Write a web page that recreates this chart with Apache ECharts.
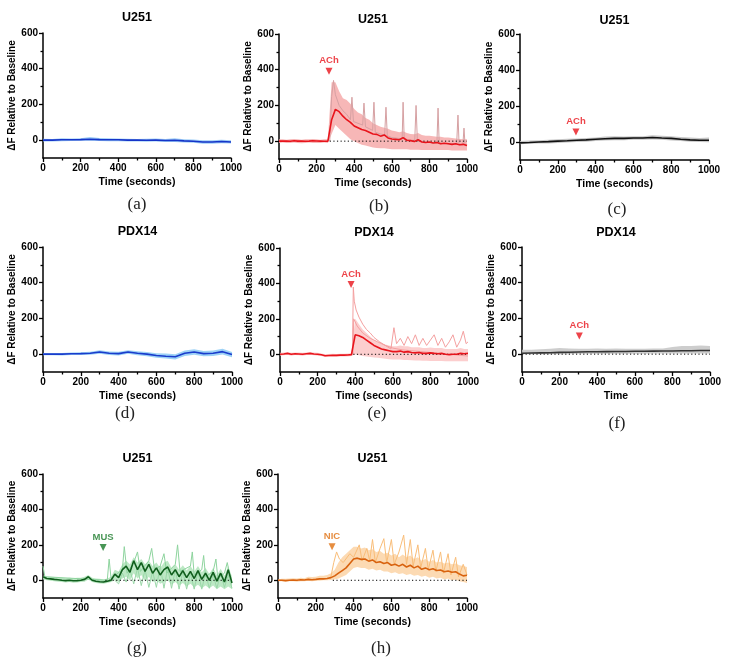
<!DOCTYPE html>
<html><head><meta charset="utf-8">
<script src="https://cdn.jsdelivr.net/npm/echarts@6/dist/echarts.min.js"></script>
<style>html,body{margin:0;padding:0;background:#fff}#c{width:731px;height:667px}</style>
</head><body><div id="c"></div>
<script>
// ---------- data ----------
const T50 = [0,50,100,150,200,250,300,350,400,450,500,550,600,650,700,750,800,850,900,950,1000];
const T20 = [0,20,40,60,80,100,120,140,160,180,200,220,240,260,280,300,320,340,360,380,400,420,440,460,480,500,520,540,560,580,600,620,640,660,680,700,720,740,760,780,800,820,840,860,880,900,920,940,960,980,1000];
const xTicks = [0,200,400,600,800,1000];
const xMinorTicks = [100,300,500,700,900];
const yTicks = [0,200,400,600];
const yMinorTicks = [100,300,500];

// (a) U251 control
const aMean = [0,0,2,2,3,5,3,2,2,0,0,-1,0,-2,-1,-4,-6,-10,-10,-8,-10];
const aUp   = [8,7,10,9,11,18,12,10,9,8,7,8,9,7,10,5,3,-1,0,2,-1];
const aLo   = [-7,-8,-6,-5,-4,-3,-5,-6,-6,-8,-8,-9,-8,-10,-10,-13,-15,-20,-20,-18,-19];

// (b) U251 ACh
const bMean = [0,1,0,-1,2,0,1,-1,0,2,1,0,-1,0,
  120,178,165,140,120,105,85,75,65,60,50,40,38,28,35,18,12,10,8,20,5,3,-2,8,-5,-8,-5,-10,-8,-15,-12,-15,-18,-15,-20,-18,-25];
const bUp = [10,10,8,10,12,10,8,10,10,12,10,8,10,10,
  330,330,280,240,230,210,180,160,150,130,120,100,90,80,75,70,60,55,50,55,45,40,38,45,35,30,30,28,25,25,20,20,18,15,12,10,10];
const bLo = [-10,-8,-10,-10,-8,-10,-12,-10,-8,-10,-10,-10,-8,-10,
  40,90,70,50,30,10,0,-10,-20,-25,-30,-35,-38,-40,-40,-42,-45,-45,-45,-45,-45,-48,-48,-48,-50,-50,-50,-50,-50,-50,-50,-50,-52,-52,-52,-52,-52];
const bSpiky = [[270,0],[280,250],[290,340],[300,260],[320,200],[340,170],[360,150],[380,120],[388,246],[396,110],[420,100],[445,90],[452,213],[460,80],[480,70],[498,60],[505,218],[512,50],[540,40],[562,35],[569,190],[576,30],[600,20],[640,15],[655,10],[660,218],[666,10],[700,5],[722,5],[729,200],[736,0],[780,-5],[820,-10],[840,-10],[846,185],[852,-10],[900,-15],[945,-15],[952,146],[958,-20],[978,-20],[984,73],[990,-25],[1000,-25]];

// (c) U251 ACh (no response)
const cMean = [-5,-3,0,2,5,7,10,12,15,18,20,20,22,22,25,22,20,15,12,10,10];
const cUp   = [5,8,10,12,15,18,20,22,25,30,32,30,32,32,38,35,32,28,25,22,25];
const cLo   = [-12,-10,-8,-8,-5,-3,0,2,5,8,10,10,12,12,14,12,8,5,2,0,-2];

// (d) PDX14 control
const dMean = [0,0,0,2,3,5,12,5,3,12,5,0,-8,-12,-15,5,12,3,5,14,-2];
const dUp   = [6,7,7,9,11,14,22,15,13,22,16,12,5,3,0,20,28,18,20,30,12];
const dLo   = [-6,-6,-7,-5,-5,-4,2,-5,-7,2,-6,-12,-20,-25,-30,-10,-4,-12,-10,-2,-18];

// (e) PDX14 ACh
const eMean = [0,2,5,0,3,2,0,3,5,2,0,-3,-8,-7,-6,-6,-5,-5,-4,-2,
  110,105,95,80,65,50,40,30,25,20,15,15,18,12,15,10,8,10,5,5,8,5,3,5,0,-2,0,0,5,3,5];
const eUp = [8,10,12,8,10,10,8,10,12,10,8,5,0,2,3,2,3,3,4,6,
  200,170,140,120,100,80,70,60,55,50,45,45,50,45,45,40,40,40,35,35,38,35,35,35,30,30,30,30,35,30,30];
const eLo = [-8,-6,-2,-8,-4,-6,-8,-4,-2,-6,-8,-10,-15,-14,-14,-14,-13,-13,-12,-10,
  0,-5,-10,-12,-15,-18,-20,-22,-25,-28,-30,-30,-30,-32,-32,-34,-35,-35,-36,-36,-38,-38,-38,-38,-40,-40,-40,-40,-40,-40,-40];
const eTrace1 = [[385,0],[390,380],[395,300],[405,250],[420,210],[440,170],[460,140],[480,120],[500,95],[530,70],[560,50],[600,35],[650,25],[700,20],[800,10],[900,0],[1000,-10]];
const eTrace2 = [[388,0],[392,200],[410,160],[440,120],[480,90],[520,70],[560,50],[590,30],[606,150],[620,60],[640,90],[660,50],[680,100],[700,60],[720,110],[740,50],[760,90],[780,50],[800,80],[820,110],[840,50],[860,90],[880,40],[900,70],[920,110],[940,40],[960,80],[975,130],[990,60],[1000,70]];

// (f) PDX14 ACh (no response)
const fMean = [5,6,7,8,10,11,12,13,13,14,15,15,16,16,17,18,18,19,19,20,20];
const fUp   = [25,25,28,30,35,32,30,30,32,30,32,30,30,30,32,32,40,45,45,48,45];
const fLo   = [0,0,0,0,0,0,2,2,2,2,2,2,2,2,3,3,3,3,3,3,3];

// (g) U251 MUS
const gMean = [20,10,8,5,3,0,-2,0,-3,-2,0,5,20,0,-5,-8,-10,-5,0,35,15,60,80,45,110,60,100,50,90,40,70,30,60,75,30,60,20,55,15,50,10,55,5,40,0,45,-5,40,-10,60,-15];
const gUp = [25,20,20,18,15,15,12,15,12,15,15,20,30,15,10,8,5,10,20,60,50,90,110,90,130,100,120,90,110,80,100,70,100,110,70,90,60,85,55,80,50,80,45,70,35,70,30,65,25,80,20];
const gLo = [5,0,-2,-5,-8,-10,-12,-10,-14,-12,-10,-8,5,-10,-15,-18,-20,-15,-10,0,-10,10,20,0,40,10,30,-5,20,-10,0,-20,-10,0,-25,-10,-30,-15,-35,-20,-40,-25,-45,-30,-45,-30,-50,-35,-50,-35,-50];
const gTrace1 = [[0,80],[10,20],[340,0],[350,120],[360,10],[420,60],[430,190],[445,40],[480,100],[500,160],[515,50],[560,110],[575,180],[590,60],[620,80],[640,150],[655,40],[700,90],[712,200],[725,50],[780,80],[790,160],[800,30],[840,60],[850,140],[860,20],[900,50],[915,120],[925,10],[960,40],[975,100],[990,20]];
const gTrace2 = [[380,0],[400,-20],[420,40],[440,-10],[460,60],[480,-20],[500,70],[520,-30],[540,60],[560,-40],[580,50],[600,-40],[620,80],[640,-45],[660,70],[680,-45],[700,60],[720,-50],[740,50],[760,-50],[780,40],[800,-50],[820,50],[840,-50],[860,40],[880,-45],[900,30],[920,-45],[940,40],[960,-40],[980,30],[1000,-45]];

// (h) U251 NIC
const hMean = [0,0,-2,0,2,0,3,2,5,3,5,8,8,
  10,15,25,40,55,70,95,120,125,118,120,108,115,100,105,95,100,85,90,80,90,75,85,70,80,62,70,60,65,55,58,48,52,45,48,35,25,28];
const hUp = [5,8,8,10,12,10,15,12,20,18,20,25,25,
  30,40,60,100,130,150,170,190,190,180,185,170,175,160,165,150,155,140,150,130,145,130,140,120,130,110,120,105,115,100,105,95,100,90,95,85,80,75];
const hLo = [-5,-5,-8,-5,-5,-8,-5,-5,-3,-5,-3,-2,0,
  0,2,5,10,20,30,50,70,75,70,70,60,65,55,60,50,50,40,45,35,40,30,35,25,30,20,25,15,20,10,15,5,10,0,5,-5,-10,-15];
const hTrace = [[280,20],[295,100],[310,160],[325,120],[345,100],[380,150],[400,130],[430,200],[445,110],[470,180],[485,110],[500,230],[515,100],[540,180],[560,235],[575,100],[600,230],[615,90],[640,160],[665,255],[680,90],[700,230],[715,80],[740,200],[755,70],[780,180],[795,60],[820,170],[835,50],[860,160],[875,40],[900,150],[915,30],[940,130],[955,20],[980,90],[1000,30]];

// drug markers: [time, level]
const markB = [266, 392], markC = [296, 55], markE = [378, 394], markF = [305, 101], markG = [318, 185], markH = [286, 190];
// dotted zero line start times
const zeroB = 270, zeroE = 390, zeroF = 0, zeroG = 330, zeroH = 290;

// ---------- layout / styles ----------
const FONT = '"Liberation Sans", Arial, sans-serif';
const panels = [
  {grid:[43,33,188,125], title:'U251', ty:18, cap:'(a)', cx:137, cy:205, xName:'Time (seconds)',
   t:T50, mean:aMean, up:aUp, lo:aLo, mc:'#1534c8', bc:'#8ec6f6', traces:[]},
  {grid:[279,34,188,125], title:'U251', ty:20, cap:'(b)', cx:379, cy:207, xName:'Time (seconds)',
   t:T20, mean:bMean, up:bUp, lo:bLo, mc:'#e8141c', bc:'#f6aaaa', traces:[[bSpiky,'#d6a0a2']],
   mark:markB, mtxt:'ACh', mcol:'#e8141c', zero:zeroB},
  {grid:[520,34,189,126], title:'U251', ty:21, cap:'(c)', cx:617, cy:210, xName:'Time (seconds)',
   t:T50, mean:cMean, up:cUp, lo:cLo, mc:'#111111', bc:'#bdbdbd', traces:[],
   mark:markC, mtxt:'ACh', mcol:'#e8141c'},
  {grid:[43,247,189,125], title:'PDX14', ty:232, cap:'(d)', cx:125, cy:414, xName:'Time (seconds)',
   t:T50, mean:dMean, up:dUp, lo:dLo, mc:'#1a3ccc', bc:'#8ccaf5', traces:[]},
  {grid:[280,248,188,124], title:'PDX14', ty:233, cap:'(e)', cx:377, cy:414, xName:'Time (seconds)',
   t:T20, mean:eMean, up:eUp, lo:eLo, mc:'#e8141c', bc:'#fbc6c6', traces:[[eTrace1,'#f4a0a0'],[eTrace2,'#f4a0a0']],
   mark:markE, mtxt:'ACh', mcol:'#e8141c', zero:zeroE},
  {grid:[522,247,188,125], title:'PDX14', ty:233, cap:'(f)', cx:617, cy:424, xName:'Time',
   t:T50, mean:fMean, up:fUp, lo:fLo, mc:'#333333', bc:'#c4c4c4', traces:[],
   mark:markF, mtxt:'ACh', mcol:'#e8141c', zero:zeroF},
  {grid:[43,474,189,124], title:'U251', ty:459, cap:'(g)', cx:137, cy:649, xName:'Time (seconds)',
   t:T20, mean:gMean, up:gUp, lo:gLo, mc:'#0f5e1c', bc:'#b2e4bb', traces:[[gTrace2,'#9ad8a8'],[gTrace1,'#8ed49e']],
   mark:markG, mtxt:'MUS', mcol:'#1a7a2a', zero:zeroG},
  {grid:[278,474,189,124], title:'U251', ty:459, cap:'(h)', cx:381, cy:649, xName:'Time (seconds)',
   t:T20, mean:hMean, up:hUp, lo:hLo, mc:'#d8620e', bc:'#fcd3a6', traces:[[hTrace,'#f9bd78']],
   mark:markH, mtxt:'NIC', mcol:'#e07010', zero:zeroH}
];

const grids = [], xAxes = [], yAxes = [], xMinor = [], yMinor = [], series = [], graphics = [];
const tickLine = {color:'#000', width:1.3};
panels.forEach((p, i) => {
  grids.push({left:p.grid[0], top:p.grid[1], width:p.grid[2], height:p.grid[3]});
  xAxes.push({type:'value', gridIndex:i, min:0, max:1000, interval:200, position:'bottom',
    name:p.xName, nameLocation:'middle', nameGap:19,
    nameTextStyle:{fontFamily:FONT, fontWeight:'bold', fontSize:10.5, color:'#000'},
    axisLine:{show:true, onZero:false, lineStyle:{color:'#000', width:1.5}},
    axisTick:{show:true, length:4, lineStyle:tickLine, customValues:xTicks},
    axisLabel:{fontFamily:FONT, fontWeight:'bold', fontSize:10, color:'#000', margin:5,
      customValues:xTicks, formatter:v => String(v)},
    splitLine:{show:false}});
  xMinor.push({type:'value', gridIndex:i, min:0, max:1000, interval:100, position:'bottom',
    axisLine:{show:false, onZero:false}, axisTick:{show:true, length:2.5, lineStyle:tickLine, customValues:xMinorTicks},
    axisLabel:{show:false}, splitLine:{show:false}});
  yAxes.push({type:'value', gridIndex:i, min:-100, max:600, interval:100, position:'left',
    name:'ΔF Relative to Baseline', nameLocation:'middle', nameGap:22,
    nameTextStyle:{fontFamily:FONT, fontWeight:'bold', fontSize:10, color:'#000'},
    axisLine:{show:true, onZero:false, lineStyle:{color:'#000', width:1.5}},
    axisTick:{show:true, length:4, lineStyle:tickLine, customValues:yTicks},
    axisLabel:{fontFamily:FONT, fontWeight:'bold', fontSize:10, color:'#000', margin:5,
      customValues:yTicks, formatter:v => String(v)},
    splitLine:{show:false}});
  yMinor.push({type:'value', gridIndex:i, min:-100, max:600, interval:100, position:'left',
    axisLine:{show:false, onZero:false}, axisTick:{show:true, length:2.5, lineStyle:tickLine, customValues:yMinorTicks},
    axisLabel:{show:false}, splitLine:{show:false}});
  const band = p.up.map((u, k) => [p.t[k], u]).concat(p.lo.map((l, k) => [p.t[k], l]).reverse());
  series.push({type:'custom', xAxisIndex:i, yAxisIndex:i, silent:true, clip:true, z:1,
    data:[[0,0]],
    renderItem:(params, api) => ({type:'polygon',
      shape:{points: band.map(pt => api.coord(pt))},
      style:{fill:p.bc, opacity:0.85}})});
  p.traces.forEach(tr => series.push({type:'line', xAxisIndex:i, yAxisIndex:i, data:tr[0], symbol:'none',
    silent:true, z:2, lineStyle:{color:tr[1], width:1}}));
  if (p.zero !== undefined) series.push({type:'line', xAxisIndex:i, yAxisIndex:i, data:[[p.zero,0],[1000,0]],
    symbol:'none', silent:true, z:3, lineStyle:{color:'#000', width:1, type:[1.2,2.4]}});
  series.push({type:'line', xAxisIndex:i, yAxisIndex:i, data:p.mean.map((v, k) => [p.t[k], v]),
    symbol:'none', silent:true, z:4, lineStyle:{color:p.mc, width:1.6}});
  if (p.mark) series.push({type:'scatter', xAxisIndex:i, yAxisIndex:i, data:[p.mark], symbol:'triangle',
    symbolRotate:180, symbolSize:[7,7], silent:true, z:5, itemStyle:{color:p.mcol},
    label:{show:true, position:'top', distance:2, formatter:p.mtxt, color:p.mcol,
      fontFamily:FONT, fontWeight:'bold', fontSize:9.5}});
  const cxp = p.grid[0] + p.grid[2] / 2;
  graphics.push({type:'text', x:cxp, y:p.ty, silent:true,
    style:{text:p.title, font:'bold 12.5px ' + FONT, fill:'#000', textAlign:'center', textVerticalAlign:'middle', align:'center', verticalAlign:'middle'}});
  graphics.push({type:'text', x:p.cx, y:p.cy, silent:true,
    style:{text:p.cap, font:'17px "Liberation Serif", serif', fill:'#222', textAlign:'center', textVerticalAlign:'middle', align:'center', verticalAlign:'middle'}});
});

const chart = echarts.init(document.getElementById('c'), null, {renderer:'canvas'});
chart.setOption({animation:false, backgroundColor:'#fff',
  grid:grids, xAxis:xAxes.concat(xMinor), yAxis:yAxes.concat(yMinor), series:series, graphic:graphics});
</script></body></html>
